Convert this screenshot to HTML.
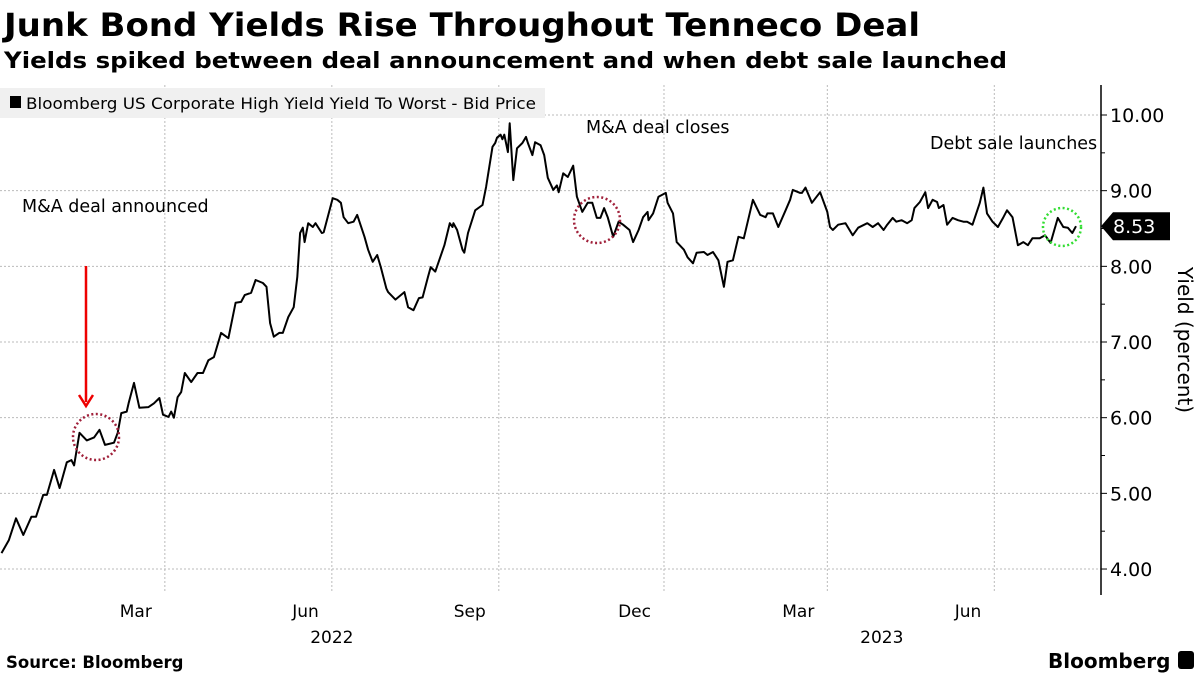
<!DOCTYPE html>
<html><head><meta charset="utf-8">
<style>
body{margin:0;background:#fff;width:1200px;height:675px;overflow:hidden;font-family:"DejaVu Sans","Liberation Sans",sans-serif;}
svg{display:block}
</style></head><body>
<svg width="1200" height="675" viewBox="0 0 1200 675" font-family="DejaVu Sans, Liberation Sans, sans-serif">
<text x="4" y="36" font-size="32" font-weight="bold" fill="#000" textLength="916" lengthAdjust="spacingAndGlyphs">Junk Bond Yields Rise Throughout Tenneco Deal</text>
<text x="4" y="68" font-size="22" font-weight="bold" fill="#000" textLength="1003" lengthAdjust="spacingAndGlyphs">Yields spiked between deal announcement and when debt sale launched</text>
<g id="grid"></g>
<rect x="0" y="88" width="545" height="30" fill="#f0f0f0"/>
<rect x="10" y="96" width="11" height="12" fill="#000"/>
<text x="26" y="109" font-size="16" fill="#000" textLength="510" lengthAdjust="spacingAndGlyphs">Bloomberg US Corporate High Yield Yield To Worst - Bid Price</text>
<g id="plot"></g>
<g id="axes"></g>
<text x="22" y="212" font-size="17.5" fill="#000">M&amp;A deal announced</text>
<text x="586" y="133" font-size="17.5" fill="#000">M&amp;A deal closes</text>
<svg x="0" y="0" width="1101" height="675"><text x="930" y="149" font-size="17.5" font-family="DejaVu Sans, sans-serif" fill="#000">Debt sale launches</text></svg>
<line x1="86" y1="266" x2="86" y2="402" stroke="#e00" stroke-width="2.5"/>
<polyline points="79,395 86,406 93,395" fill="none" stroke="#e00" stroke-width="2.5"/>
<circle cx="96" cy="437" r="23" fill="none" stroke="#a0203a" stroke-width="2.5" stroke-dasharray="2 2.5"/>
<circle cx="597" cy="220" r="23" fill="none" stroke="#a0203a" stroke-width="2.5" stroke-dasharray="2 2.5"/>
<circle cx="1062" cy="227" r="19" fill="none" stroke="#33dd33" stroke-width="2.5" stroke-dasharray="2 2.5"/>
<text transform="translate(1178,340) rotate(90)" text-anchor="middle" font-size="20" fill="#000">Yield (percent)</text>
<text x="6" y="668" font-size="16.5" font-weight="bold" fill="#000">Source: Bloomberg</text>
<text x="1048" y="668" font-size="20" font-weight="bold" fill="#000">Bloomberg</text>
<rect x="1178" y="651" width="16" height="18" rx="3" fill="#000"/>
</svg>
<script>
const days=[0,4,8,12,16.5,19,23,25,29,32,36,38.5,40,43,47,51,54,57,62,64,66,69,70,73,76,81,84,87,89,92,93.5,95,97,99,101,104.5,108,111,114,117,121,125,129,132,134,137.5,140,144,146,148,150,153,155,158,161,163,164.5,166,167,169,171.5,173,176.5,177.5,182.5,185,187,188.5,191,194,196,200,202,204.5,207,209,212,213,217,220,222,224,227,230,232,235,236.5,239,244,247,248.5,249,251,254,255,257,261,265,267,270.5,272,273,275,276,277,279,280,282,284,287,289,290,292.5,294,297,299,301,304,306,307,309.5,312,315,317,320,323,325.5,328,330,332,334,337,340,342.5,346,348,351,353.5,356,356.5,359,362,366,367,370,372,376,378,381,383,387,389,392,395,398,400,403,406,409,414,418,421,422,425,428,432,434.5,436,440,441,443,446.5,451,455,456.5,458,461,465,469,472,477,480,483,486,488,491,493,496,499,501.5,503,506,509,510.5,513,515.5,516.5,519,521,524,527,530,532,535,539,541,543,546,549,552,554,557,560,563,565.5,568,572,575,578,582,585,587.5,590,592];
const yields=[4.21,4.38,4.67,4.45,4.69,4.69,4.98,4.98,5.31,5.07,5.41,5.44,5.37,5.80,5.70,5.74,5.84,5.64,5.67,5.80,6.06,6.08,6.19,6.46,6.13,6.14,6.19,6.26,6.04,6.01,6.08,6.00,6.27,6.34,6.59,6.47,6.59,6.59,6.76,6.80,7.12,7.05,7.52,7.53,7.62,7.65,7.82,7.78,7.73,7.25,7.07,7.12,7.12,7.33,7.46,7.86,8.44,8.51,8.32,8.57,8.52,8.57,8.44,8.45,8.90,8.88,8.84,8.65,8.57,8.59,8.68,8.39,8.22,8.06,8.15,7.99,7.71,7.66,7.56,7.62,7.66,7.46,7.42,7.58,7.59,7.86,7.99,7.93,8.28,8.57,8.52,8.57,8.48,8.22,8.18,8.44,8.74,8.81,9.05,9.58,9.63,9.70,9.74,9.68,9.74,9.51,9.89,9.14,9.56,9.63,9.71,9.63,9.47,9.64,9.60,9.47,9.17,9.01,9.07,8.98,9.23,9.18,9.33,8.92,8.72,8.84,8.84,8.64,8.64,8.77,8.65,8.39,8.59,8.55,8.48,8.32,8.48,8.65,8.72,8.61,8.70,8.92,8.97,8.84,8.70,8.32,8.22,8.12,8.04,8.18,8.19,8.15,8.19,8.08,7.73,8.06,8.08,8.39,8.37,8.88,8.68,8.65,8.70,8.70,8.52,8.74,8.88,9.01,8.97,8.97,9.04,8.84,8.98,8.72,8.52,8.48,8.55,8.57,8.41,8.51,8.57,8.52,8.57,8.48,8.55,8.64,8.59,8.61,8.57,8.61,8.77,8.85,8.98,8.77,8.88,8.85,8.77,8.81,8.55,8.64,8.61,8.59,8.59,8.55,8.84,9.04,8.70,8.59,8.52,8.65,8.74,8.65,8.28,8.32,8.28,8.37,8.37,8.41,8.31,8.64,8.52,8.51,8.44,8.53];
const yTicks=[4,5,6,7,8,9,10];
const monthTickDays=[90,182,274,365,455,547];
const monthLabels=["Mar","Jun","Sep","Dec","Mar","Jun"];
const yearLabels=["2022","2023"];
const yearDays=[182,485];
const lastLabel="8.53";
const NS="http://www.w3.org/2000/svg";
const xS=d=>1.5+d*1.815;
const yS=v=>115+(10-v)*75.67;
function mk(tag,attrs,parent){const e=document.createElementNS(NS,tag);for(const k in attrs)e.setAttribute(k,attrs[k]);parent.appendChild(e);return e;}
const grid=document.getElementById('grid'),plot=document.getElementById('plot'),axes=document.getElementById('axes');
yTicks.forEach(v=>{
  const l=mk('line',{x1:0,x2:1101,y1:yS(v),y2:yS(v),stroke:'#bbb','stroke-width':1,'stroke-dasharray':'2 2'},grid);
  
  
  const t=mk('line',{x1:1101,x2:1107,y1:yS(v),y2:yS(v),stroke:'#000','stroke-width':1},axes);
  
  
  if(v<10){
    const m=mk('line',{x1:1101,x2:1105,y1:yS(v+0.5),y2:yS(v+0.5),stroke:'#000','stroke-width':1},axes);
    
    
  }
  const tx=mk('text',{x:1110,y:yS(v)+7,'font-size':19,fill:'#000'},axes);
  tx.textContent=v.toFixed(2);
  
  
});
monthTickDays.forEach((d,i)=>{
  const l=mk('line',{x1:xS(d),x2:xS(d),y1:85,y2:593,stroke:'#bbb','stroke-width':1,'stroke-dasharray':'2 2'},grid);
  
  
  const tx=mk('text',{x:xS(d)-13,y:617,'font-size':17,fill:'#000','text-anchor':'end'},axes);
  tx.textContent=monthLabels[i];
  
  
});
yearDays.forEach((d,i)=>{
  const tx=mk('text',{x:xS(d),y:643,'font-size':17,fill:'#000','text-anchor':'middle'},axes);
  tx.textContent=yearLabels[i];
  
  
});
const ax=mk('line',{x1:1101,x2:1101,y1:85,y2:595,stroke:'#000','stroke-width':1.5},axes);


const pts=days.map((d,i)=>xS(d).toFixed(1)+','+yS(yields[i]).toFixed(1)).join(' ');
const line=mk('polyline',{points:pts,fill:'none',stroke:'#000','stroke-width':2,'stroke-linejoin':'round'},plot);


const ly=yS(yields[yields.length-1]);
const tag=mk('polygon',{points:`1101,${ly} 1113,${ly-14} 1170,${ly-14} 1170,${ly+14} 1113,${ly+14}`,fill:'#000'},axes);


const tt=mk('text',{x:1113,y:ly+7,'font-size':19,fill:'#fff'},axes);
tt.textContent=lastLabel;


</script>
</body></html>
